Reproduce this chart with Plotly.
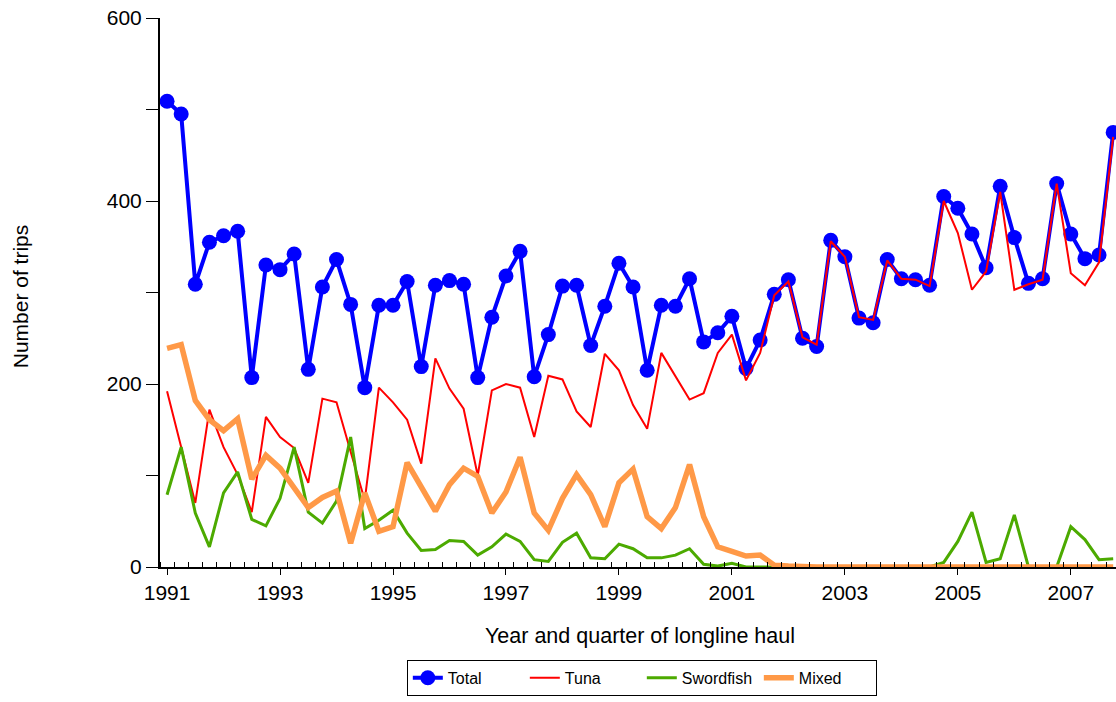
import plotly.graph_objects as go

years = [1991 + 0.25 * i for i in range(68)]

total = [509, 495, 309, 355, 362, 367, 207, 330, 325, 342, 216, 306, 336, 287, 196, 286,
         286, 312, 219, 308, 313, 309, 207, 273, 318, 345, 208, 254, 307, 308, 242, 285,
         332, 306, 215, 286, 285, 315, 246, 256, 274, 217, 248, 298, 314, 250, 241, 357,
         339, 272, 267, 336, 315, 314, 308, 405, 392, 364, 327, 416, 360, 310, 315, 419,
         364, 337, 341, 475]

tuna = [192, 130, 70, 172, 131, 101, 60, 164, 142, 130, 92, 184, 180, 126, 73, 196,
        180, 161, 113, 228, 195, 173, 100, 193, 200, 196, 142, 209, 205, 170, 153, 233,
        215, 177, 151, 234, 208, 183, 190, 234, 254, 204, 234, 297, 312, 251, 243, 356,
        339, 273, 270, 335, 315, 314, 307, 400, 365, 303, 323, 410, 303, 309, 314, 419,
        321, 308, 333, 470]

swordfish = [79, 131, 59, 22, 81, 104, 52, 45, 75, 131, 60, 48, 72, 142, 42, 51,
             62, 37, 18, 19, 29, 28, 13, 22, 36, 28, 8, 6, 27, 37, 10, 9,
             25, 20, 10, 10, 13, 20, 3, 1, 4, 0, 0, 0, 0, 0, 0, 0,
             0, 0, 0, 0, 0, 0, 0, 5, 28, 60, 5, 9, 57, 0, 0, 0,
             44, 30, 8, 9]

mixed = [239, 243, 182, 161, 149, 162, 96, 122, 108, 87, 65, 76, 83, 26, 81, 39,
         44, 114, 88, 61, 90, 108, 99, 59, 82, 120, 59, 40, 75, 101, 79, 44,
         92, 107, 55, 42, 65, 112, 55, 22, 17, 12, 13, 2, 1, 0, 0, 0,
         0, 0, 0, 0, 0, 0, 0, 0, 0, 0, 0, 0, 0, 0, 0, 0,
         0, 0, 0, 0]

x_tick_vals = [1991, 1993, 1995, 1997, 1999, 2001, 2003, 2005, 2007]
x_tick_text = [str(v) for v in x_tick_vals]
y_tick_vals = [0, 200, 400, 600]

FONT = "Liberation Sans, Arial, sans-serif"

fig = go.Figure()
fig.add_trace(go.Scatter(x=years, y=total, name="Total", mode="lines+markers",
                         line=dict(color="#0000FF", width=4),
                         marker=dict(color="#0000FF", size=15)))
fig.add_trace(go.Scatter(x=years, y=tuna, name="Tuna", mode="lines",
                         line=dict(color="#FF0000", width=2)))
fig.add_trace(go.Scatter(x=years, y=swordfish, name="Swordfish", mode="lines",
                         line=dict(color="#4CAA00", width=3)))
fig.add_trace(go.Scatter(x=years, y=mixed, name="Mixed", mode="lines",
                         line=dict(color="#FF9947", width=5.5)))

fig.update_layout(
    width=1116, height=702,
    margin=dict(l=160, r=0, t=18, b=135, autoexpand=False),
    paper_bgcolor="white", plot_bgcolor="white",
    font=dict(family=FONT, size=21, color="black"),
    showlegend=True,
    legend=dict(orientation="h", x=0.504, xanchor="center", y=-0.169, yanchor="top",
                bordercolor="black", borderwidth=1, font=dict(size=16),
                entrywidth=72, entrywidthmode="pixels", itemwidth=30,
                bgcolor="white"),
    xaxis=dict(range=[1990.875, 2007.80], tickvals=x_tick_vals, ticktext=x_tick_text,
               showline=True, linecolor="black", linewidth=2, ticks="outside",
               ticklen=6, tickwidth=1, tickcolor="black", showgrid=False, zeroline=False,
               automargin=False, tickfont=dict(size=21),
               minor=dict(tick0=1991.125, dtick=0.25, ticks="inside", ticklen=5,
                          tickwidth=1, tickcolor="black", showgrid=False)),
    yaxis=dict(range=[0, 600], tickvals=y_tick_vals,
               showline=True, linecolor="black", linewidth=2, ticks="outside",
               ticklen=12, tickwidth=1, tickcolor="black", showgrid=False, zeroline=False,
               automargin=False, tickfont=dict(size=21),
               minor=dict(tick0=0, dtick=100, ticks="outside", ticklen=12,
                          tickwidth=1, tickcolor="black", showgrid=False)),
    annotations=[
        dict(text="Number of trips", xref="paper", yref="paper", x=-0.1465, y=0.493,
             xanchor="center", yanchor="middle", textangle=-90, showarrow=False,
             font=dict(size=21)),
        dict(text="Year and quarter of longline haul", xref="paper", yref="paper",
             x=0.502, y=-0.125, xanchor="center", yanchor="middle", showarrow=False,
             font=dict(size=21.5)),
    ],
)

fig.write_html("out.html", config={"displayModeBar": False},
               post_script="document.body.style.margin='0';")
